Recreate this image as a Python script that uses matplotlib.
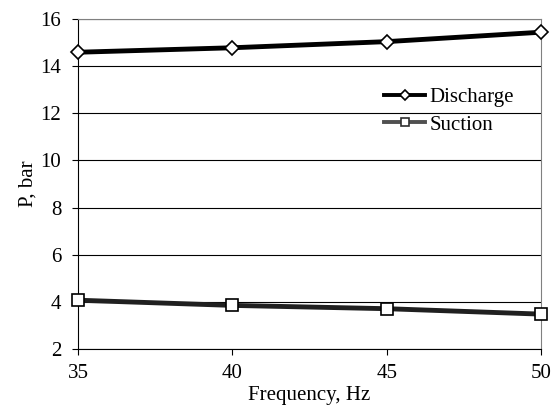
import matplotlib
matplotlib.use("Agg")
import matplotlib.pyplot as plt

freq = [35, 40, 45, 50]
discharge = [14.59, 14.78, 15.04, 15.44]
suction = [4.07, 3.85, 3.71, 3.48]
yticks = [2, 4, 6, 8, 10, 12, 14, 16]

plt.rcParams['font.family'] = ['Liberation Serif', 'DejaVu Serif']

fig = plt.figure(figsize=(5.58, 4.07), dpi=100)
ax = fig.add_axes([0.1398, 0.1425, 0.8297, 0.8108])

ax.plot(freq, discharge, color='black', lw=3.5, marker='D', ms=7,
        mfc='white', mec='black', mew=1.2, label='Discharge', zorder=3, clip_on=False)
ax.plot(freq, suction, color='#202020', lw=3.5, marker='s', ms=8,
        mfc='white', mec='black', mew=1.2, label='Suction', zorder=3, clip_on=False)

ax.set_xlim(35, 50)
ax.set_ylim(2, 16)
ax.set_xticks(freq)
ax.set_yticks(yticks)
ax.yaxis.grid(True, color='black', lw=0.8)
ax.set_axisbelow(True)
for s in ['top', 'right']:
    ax.spines[s].set_color('#808080')
for s in ['left', 'bottom']:
    ax.spines[s].set_color('black')
ax.tick_params(labelsize=15, direction='out', length=4, color='black')
ax.tick_params(axis='y', pad=8)
ax.tick_params(axis='x', pad=7)
ax.set_xlabel('Frequency, Hz', fontsize=15, labelpad=2)
ax.set_ylabel('P, bar', fontsize=15, labelpad=2)

leg = ax.legend(loc='upper left', bbox_to_anchor=(0.62, 0.85), frameon=False,
                fontsize=15, handlelength=2.0, labelspacing=0.4, handletextpad=0.2,
                markerscale=0.75)
lines = leg.get_lines()
lines[0].set_linewidth(2.8)
lines[1].set_linewidth(2.8)
lines[1].set_color('#505050')
lines[1].set_markeredgecolor('#303030')

fig.savefig('out.png', dpi=100)
